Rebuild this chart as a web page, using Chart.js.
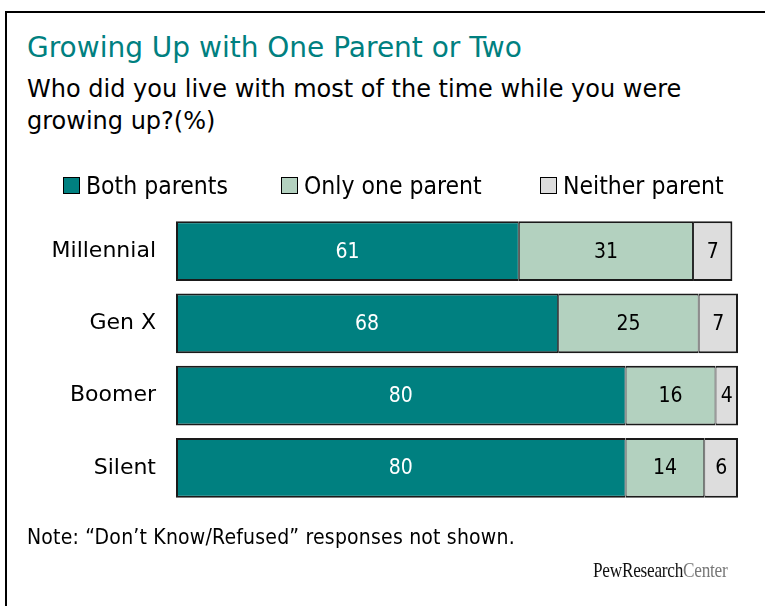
<!DOCTYPE html>
<html>
<head>
<meta charset="utf-8">
<script src="https://cdn.jsdelivr.net/npm/chart.js@4"></script>
<style>
  body { margin: 0; background: #fff; }
  #wrap { position: relative; width: 765px; height: 606px; overflow: hidden; background: #fff; }
  #frame { position: absolute; left: 5px; top: 11px; width: 800px; height: 700px; border: 2px solid #000; box-sizing: border-box; }
  #chart { position: absolute; left: 0; top: 0; }
  .txt { position: absolute; white-space: nowrap; font-family: 'DejaVu Sans', sans-serif; }
  #title { left: 27px; top: 32px; font-size: 28px; color: #008080; line-height: 32px; }
  #subtitle { left: 27px; top: 73px; font-size: 24px; color: #000; line-height: 32px; }
  #note { left: 27px; top: 525px; font-size: 21px; color: #000; font-family: 'DejaVu Sans Condensed', 'DejaVu Sans', sans-serif; letter-spacing: 0.2px; }
  #logo { left: 593px; top: 558px; font-size: 21px; font-family: 'Liberation Serif', 'DejaVu Serif', serif; transform: scaleX(0.82); transform-origin: left top; letter-spacing: -0.3px; }
  #logo .a { color: #111; }
  #logo .b { color: #777; }
  .leg { position: absolute; top: 171px; height: 28px; display: flex; align-items: center;
         font-family: 'DejaVu Sans Condensed', 'DejaVu Sans', sans-serif; font-size: 24.5px; color: #000; white-space: nowrap; }
  .leg .box { width: 15px; height: 15px; border: 1px solid #000; margin-right: 6px; }
</style>
</head>
<body>
<div id="wrap">
  <div id="frame"></div>
  <div class="txt" id="title">Growing Up with One Parent or Two</div>
  <div class="txt" id="subtitle">Who did you live with most of the time while you were<br>growing up?(%)</div>
  <canvas id="chart" width="765" height="606"></canvas>
  <div class="txt" id="note">Note: “Don’t Know/Refused” responses not shown.</div>
  <div class="txt" id="logo"><span class="a">PewResearch</span><span class="b">Center</span></div>
</div>
<script>
const categories = ['Millennial', 'Gen X', 'Boomer', 'Silent'];
const seriesNames = ['Both parents', 'Only one parent', 'Neither parent'];
const bothParents = [61, 68, 80, 80];
const onlyOneParent = [31, 25, 16, 14];
const neitherParent = [7, 7, 4, 6];
const seriesColors = ['#008080', '#b3d1bf', '#dddddd'];
const labelColors = ['#ffffff', '#000000', '#000000'];
const legendLeft = [63, 281, 540];

const condensed = "'DejaVu Sans Condensed', 'DejaVu Sans', sans-serif";

// html legend built from the series arrays
const wrap = document.getElementById('wrap');
seriesNames.forEach((name, i) => {
    const item = document.createElement('div');
    item.className = 'leg';
    item.style.left = legendLeft[i] + 'px';
    const box = document.createElement('span');
    box.className = 'box';
    box.style.background = seriesColors[i];
    item.appendChild(box);
    item.appendChild(document.createTextNode(name));
    wrap.appendChild(item);
});

const barLabels = {
    id: 'barLabels',
    afterDatasetsDraw(chart) {
        const ctx = chart.ctx;
        ctx.save();
        ctx.font = '21px ' + condensed;
        ctx.textAlign = 'center';
        ctx.textBaseline = 'middle';
        chart.data.datasets.forEach((ds, i) => {
            const meta = chart.getDatasetMeta(i);
            meta.data.forEach((bar, j) => {
                const cx = (bar.x + bar.base) / 2;
                ctx.fillStyle = labelColors[i];
                ctx.fillText(String(ds.data[j]), cx, bar.y + 1);
            });
        });
        ctx.restore();
    }
};

const dataSets = [bothParents, onlyOneParent, neitherParent];
// inner edges thinner so adjoining segments share one ~2px line
const borders = [
    { top: 2, bottom: 2, left: 2, right: 1 },
    { top: 2, bottom: 2, left: 1, right: 1 },
    { top: 2, bottom: 2, left: 1, right: 2 }
];

new Chart(document.getElementById('chart'), {
    type: 'bar',
    data: {
        labels: categories,
        datasets: seriesNames.map((name, i) => ({
            label: name,
            data: dataSets[i],
            backgroundColor: seriesColors[i],
            borderColor: '#1a1a1a',
            borderWidth: borders[i],
            borderSkipped: false,
            barPercentage: 0.83,
            categoryPercentage: 1
        }))
    },
    options: {
        indexAxis: 'y',
        responsive: false,
        animation: false,
        layout: {
            padding: { top: 215, bottom: 102, left: 0, right: 27 }
        },
        plugins: {
            legend: { display: false },
            tooltip: { enabled: false }
        },
        scales: {
            x: {
                stacked: true,
                display: false,
                min: 0,
                max: 100
            },
            y: {
                stacked: true,
                grid: { display: false, drawTicks: false },
                border: { display: false },
                ticks: {
                    color: '#000',
                    padding: 20,
                    font: { family: "'DejaVu Sans', sans-serif", size: 22 }
                },
                afterFit(scale) {
                    scale.width = 176;
                }
            }
        }
    },
    plugins: [barLabels]
});
</script>
</body>
</html>
